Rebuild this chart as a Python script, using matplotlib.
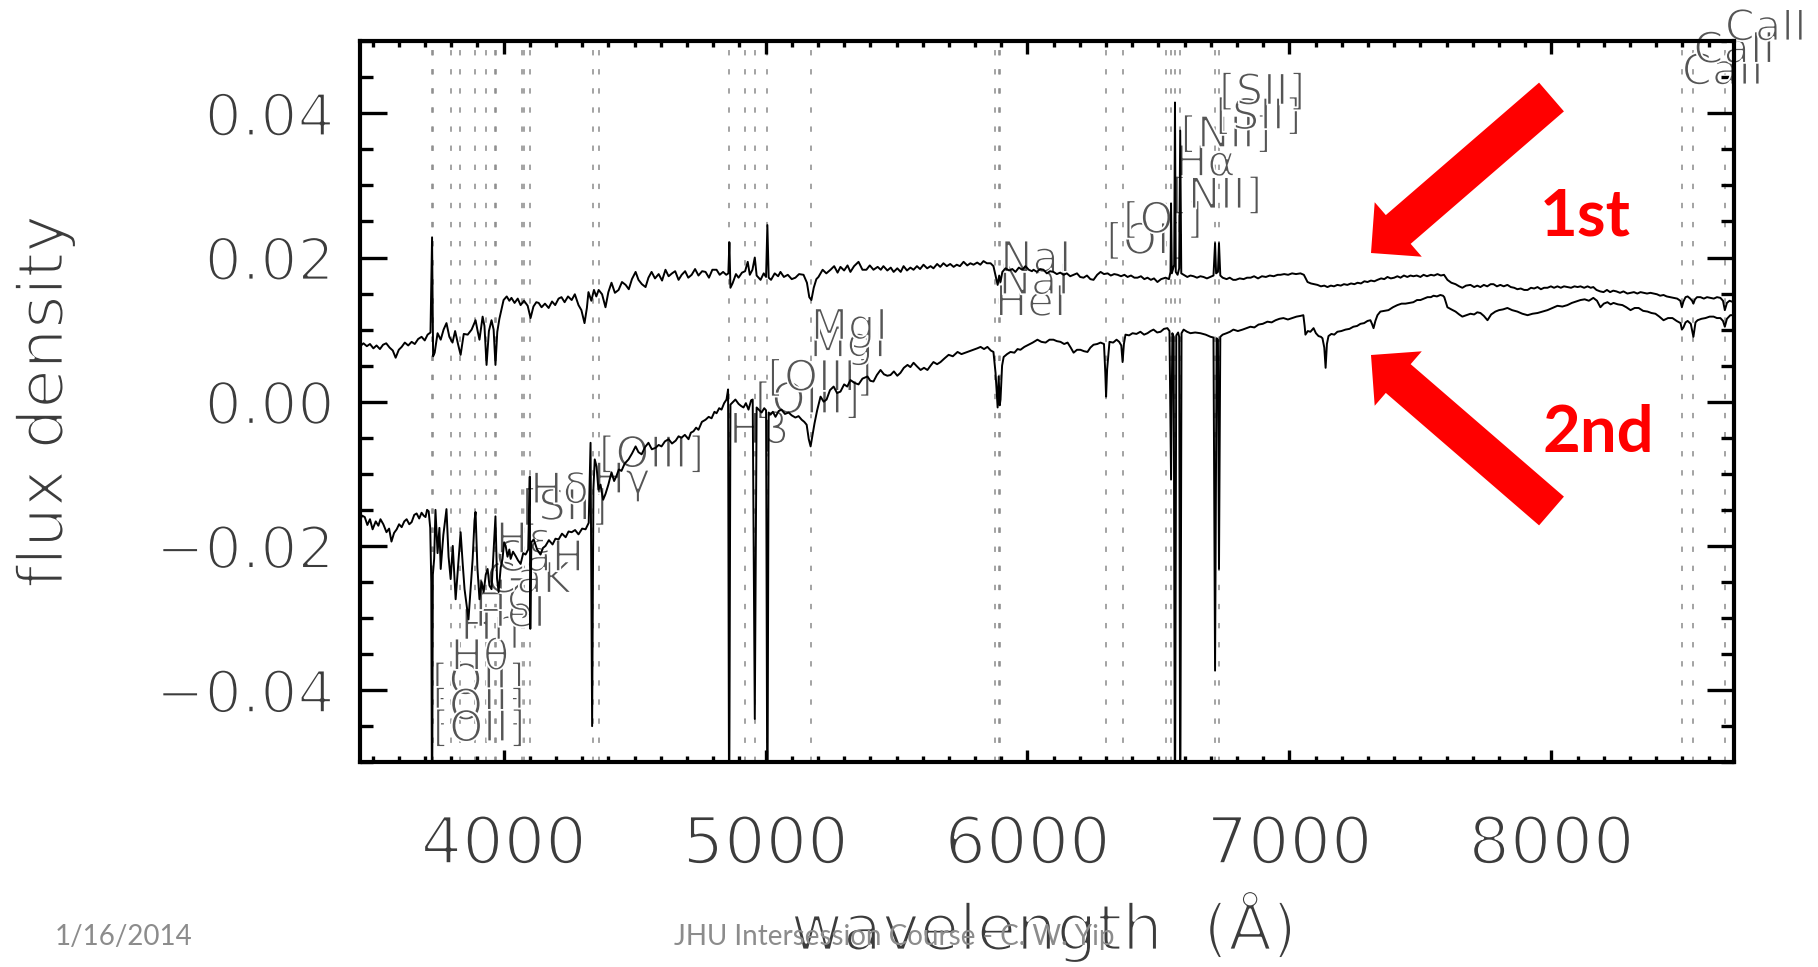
import matplotlib
matplotlib.use("Agg")
import matplotlib.pyplot as plt
import matplotlib.patheffects as pe
from matplotlib.patches import FancyArrow
from matplotlib.ticker import FixedLocator, MultipleLocator

# ---------------------------------------------------------------- data
# first spectrum (upper curve): wavelength in Angstrom, flux density
wave1 = [3450, 3465, 3478, 3490, 3503, 3515, 3528, 3540, 3552, 3565, 3577, 3588, 3600, 3611, 3623, 3636,
         3649, 3661, 3674, 3687, 3699, 3710, 3721, 3727, 3731, 3737, 3748, 3760, 3771, 3782, 3793, 3805,
         3815, 3826, 3836, 3848, 3863, 3878, 3893, 3901, 3908, 3920, 3927, 3935, 3944, 3954, 3962, 3969,
         3976, 3984, 3993, 4000, 4012, 4022, 4030, 4042, 4054, 4065, 4078, 4092, 4103, 4114, 4125, 4134,
         4145, 4158, 4172, 4185, 4197, 4210, 4221, 4233, 4246, 4260, 4272, 4286, 4297, 4309, 4318, 4324,
         4335, 4345, 4354, 4363, 4376, 4389, 4400, 4412, 4425, 4439, 4452, 4466, 4478, 4490, 4504, 4515,
         4528, 4542, 4553, 4565, 4578, 4592, 4605, 4618, 4630, 4643, 4655, 4668, 4680, 4693, 4705, 4718,
         4731, 4744, 4758, 4771, 4784, 4797, 4813, 4825, 4838, 4850, 4858, 4862, 4866, 4874, 4887, 4897,
         4910, 4922, 4932, 4940, 4950, 4959, 4966, 4981, 4993, 5002, 5007, 5012, 5021, 5035, 5048, 5057,
         5070, 5085, 5100, 5114, 5128, 5145, 5158, 5167, 5175, 5184, 5194, 5202, 5218, 5232, 5248, 5262,
         5275, 5286, 5300, 5313, 5324, 5338, 5355, 5370, 5385, 5398, 5412, 5428, 5440, 5450, 5465, 5478,
         5489, 5503, 5516, 5527, 5540, 5553, 5565, 5578, 5590, 5603, 5617, 5630, 5641, 5655, 5667, 5679,
         5692, 5705, 5718, 5730, 5742, 5756, 5770, 5782, 5794, 5808, 5820, 5832, 5845, 5859, 5870, 5878,
         5886, 5892, 5897, 5904, 5916, 5930, 5942, 5954, 5967, 5980, 5992, 6005, 6017, 6023, 6036, 6048,
         6061, 6074, 6086, 6099, 6112, 6125, 6138, 6150, 6163, 6176, 6189, 6201, 6214, 6227, 6240, 6252,
         6266, 6279, 6292, 6306, 6318, 6331, 6344, 6357, 6370, 6382, 6395, 6408, 6420, 6433, 6446, 6458,
         6471, 6483, 6496, 6510, 6527, 6540, 6546, 6548, 6551, 6556, 6560, 6563, 6566, 6573, 6579, 6583,
         6587, 6596, 6610, 6622, 6634, 6647, 6660, 6672, 6685, 6698, 6710, 6716, 6720, 6727, 6731, 6736,
         6745, 6760, 6772, 6785, 6795, 6810, 6825, 6838, 6852, 6865, 6880, 6895, 6910, 6925, 6940, 6955,
         6966, 6980, 6995, 7010, 7025, 7042, 7055, 7069, 7082, 7095, 7107, 7120, 7133, 7145, 7158, 7170,
         7183, 7196, 7208, 7221, 7235, 7248, 7260, 7273, 7286, 7298, 7311, 7324, 7336, 7350, 7362, 7374,
         7387, 7400, 7412, 7424, 7437, 7450, 7462, 7473, 7486, 7500, 7512, 7525, 7540, 7552, 7565, 7578,
         7590, 7603, 7618, 7634, 7648, 7660, 7674, 7691, 7705, 7717, 7729, 7742, 7755, 7768, 7779, 7792,
         7805, 7818, 7832, 7845, 7858, 7870, 7883, 7896, 7909, 7922, 7934, 7947, 7960, 7972, 7985, 7998,
         8010, 8023, 8036, 8048, 8061, 8075, 8088, 8100, 8111, 8125, 8138, 8150, 8160, 8172, 8186, 8199,
         8212, 8224, 8236, 8248, 8262, 8275, 8290, 8302, 8315, 8328, 8340, 8352, 8365, 8378, 8390, 8403,
         8415, 8428, 8440, 8453, 8466, 8480, 8492, 8498, 8504, 8512, 8520, 8530, 8537, 8542, 8548, 8556,
         8569, 8582, 8594, 8607, 8620, 8632, 8645, 8655, 8662, 8670, 8680, 8695, 8710]
flux1 = [0.0076, 0.0081, 0.0077, 0.0080, 0.0074, 0.0078, 0.0073, 0.0079, 0.0081, 0.0075, 0.0071, 0.0061,
         0.0072, 0.0076, 0.0082, 0.0078, 0.0083, 0.0080, 0.0087, 0.0090, 0.0085, 0.0093, 0.0096, 0.0228,
         0.0063, 0.0068, 0.0095, 0.0086, 0.0100, 0.0109, 0.0090, 0.0082, 0.0098, 0.0080, 0.0065, 0.0094,
         0.0093, 0.0100, 0.0113, 0.0098, 0.0086, 0.0118, 0.0105, 0.0051, 0.0098, 0.0113, 0.0100, 0.0051,
         0.0097, 0.0115, 0.0130, 0.0141, 0.0146, 0.0140, 0.0144, 0.0137, 0.0143, 0.0134, 0.0140, 0.0133,
         0.0116, 0.0132, 0.0138, 0.0137, 0.0131, 0.0136, 0.0130, 0.0139, 0.0134, 0.0143, 0.0145, 0.0138,
         0.0146, 0.0141, 0.0149, 0.0134, 0.0127, 0.0109, 0.0130, 0.0152, 0.0140, 0.0155, 0.0146, 0.0155,
         0.0149, 0.0131, 0.0152, 0.0165, 0.0151, 0.0155, 0.0166, 0.0162, 0.0156, 0.0170, 0.0180, 0.0169,
         0.0163, 0.0159, 0.0172, 0.0180, 0.0171, 0.0177, 0.0168, 0.0183, 0.0174, 0.0178, 0.0181, 0.0169,
         0.0176, 0.0181, 0.0172, 0.0176, 0.0184, 0.0175, 0.0181, 0.0180, 0.0172, 0.0183, 0.0183, 0.0176,
         0.0180, 0.0176, 0.0178, 0.0221, 0.0158, 0.0164, 0.0177, 0.0172, 0.0179, 0.0181, 0.0194, 0.0176,
         0.0183, 0.0200, 0.0175, 0.0169, 0.0178, 0.0173, 0.0245, 0.0172, 0.0169, 0.0178, 0.0174, 0.0180,
         0.0173, 0.0176, 0.0170, 0.0172, 0.0177, 0.0176, 0.0165, 0.0145, 0.0141, 0.0158, 0.0170, 0.0173,
         0.0183, 0.0178, 0.0183, 0.0188, 0.0179, 0.0187, 0.0182, 0.0189, 0.0180, 0.0188, 0.0194, 0.0183,
         0.0183, 0.0189, 0.0183, 0.0187, 0.0183, 0.0188, 0.0182, 0.0186, 0.0180, 0.0185, 0.0180, 0.0188,
         0.0182, 0.0186, 0.0183, 0.0188, 0.0184, 0.0190, 0.0185, 0.0188, 0.0185, 0.0191, 0.0187, 0.0192,
         0.0188, 0.0191, 0.0187, 0.0190, 0.0188, 0.0194, 0.0189, 0.0192, 0.0190, 0.0193, 0.0190, 0.0195,
         0.0192, 0.0192, 0.0188, 0.0175, 0.0162, 0.0175, 0.0166, 0.0180, 0.0185, 0.0182, 0.0184, 0.0180,
         0.0186, 0.0183, 0.0188, 0.0183, 0.0181, 0.0183, 0.0180, 0.0184, 0.0183, 0.0178, 0.0181, 0.0180,
         0.0177, 0.0179, 0.0176, 0.0178, 0.0174, 0.0176, 0.0178, 0.0173, 0.0172, 0.0175, 0.0170, 0.0169,
         0.0176, 0.0180, 0.0177, 0.0178, 0.0175, 0.0177, 0.0176, 0.0174, 0.0176, 0.0173, 0.0175, 0.0172,
         0.0172, 0.0174, 0.0170, 0.0172, 0.0169, 0.0171, 0.0166, 0.0170, 0.0172, 0.0170, 0.0180, 0.0275,
         0.0178, 0.0185, 0.0190, 0.0415, 0.0180, 0.0176, 0.0185, 0.0376, 0.0178, 0.0176, 0.0173, 0.0175,
         0.0174, 0.0172, 0.0174, 0.0173, 0.0171, 0.0173, 0.0175, 0.0220, 0.0178, 0.0180, 0.0220, 0.0175,
         0.0172, 0.0170, 0.0172, 0.0169, 0.0169, 0.0171, 0.0170, 0.0172, 0.0172, 0.0174, 0.0171, 0.0174,
         0.0173, 0.0175, 0.0174, 0.0176, 0.0176, 0.0177, 0.0176, 0.0178, 0.0177, 0.0178, 0.0176, 0.0166,
         0.0164, 0.0163, 0.0162, 0.0160, 0.0161, 0.0159, 0.0161, 0.0160, 0.0162, 0.0161, 0.0163, 0.0162,
         0.0164, 0.0163, 0.0165, 0.0164, 0.0167, 0.0166, 0.0168, 0.0167, 0.0169, 0.0171, 0.0170, 0.0173,
         0.0171, 0.0172, 0.0174, 0.0172, 0.0175, 0.0173, 0.0175, 0.0174, 0.0175, 0.0173, 0.0176, 0.0174,
         0.0176, 0.0175, 0.0177, 0.0175, 0.0176, 0.0169, 0.0165, 0.0163, 0.0160, 0.0158, 0.0161, 0.0162,
         0.0159, 0.0161, 0.0159, 0.0162, 0.0160, 0.0163, 0.0163, 0.0160, 0.0162, 0.0160, 0.0162, 0.0159,
         0.0158, 0.0156, 0.0157, 0.0155, 0.0155, 0.0158, 0.0157, 0.0159, 0.0156, 0.0158, 0.0158, 0.0160,
         0.0158, 0.0160, 0.0158, 0.0160, 0.0159, 0.0158, 0.0160, 0.0159, 0.0160, 0.0158, 0.0160, 0.0158,
         0.0159, 0.0155, 0.0153, 0.0152, 0.0155, 0.0152, 0.0154, 0.0153, 0.0151, 0.0153, 0.0150, 0.0151,
         0.0152, 0.0150, 0.0152, 0.0151, 0.0150, 0.0151, 0.0150, 0.0149, 0.0147, 0.0148, 0.0146, 0.0145,
         0.0144, 0.0143, 0.0140, 0.0131, 0.0139, 0.0145, 0.0146, 0.0143, 0.0140, 0.0136, 0.0142, 0.0145,
         0.0145, 0.0143, 0.0145, 0.0144, 0.0143, 0.0145, 0.0144, 0.0140, 0.0127, 0.0137, 0.0140, 0.0138,
         0.0139]

# second spectrum (lower curve)
wave2 = [3450, 3460, 3470, 3480, 3490, 3500, 3512, 3522, 3530, 3541, 3553, 3563, 3572, 3582, 3592, 3601,
         3611, 3621, 3630, 3640, 3649, 3659, 3668, 3678, 3687, 3695, 3702, 3708, 3714, 3720, 3724, 3727,
         3730, 3735, 3740, 3748, 3755, 3760, 3770, 3782, 3790, 3798, 3806, 3817, 3826, 3836, 3844, 3851,
         3860, 3866, 3874, 3882, 3889, 3893, 3900, 3908, 3916, 3924, 3932, 3939, 3946, 3954, 3962, 3969,
         3975, 3981, 3989, 3996, 4002, 4008, 4015, 4022, 4027, 4036, 4046, 4055, 4065, 4075, 4084, 4094,
         4100, 4102, 4106, 4115, 4128, 4141, 4150, 4160, 4173, 4187, 4198, 4210, 4223, 4237, 4248, 4260,
         4273, 4286, 4300, 4313, 4325, 4332, 4338, 4343, 4348, 4355, 4362, 4370, 4380, 4389, 4400, 4412,
         4422, 4431, 4440, 4450, 4462, 4477, 4490, 4504, 4515, 4527, 4540, 4553, 4566, 4580, 4592, 4603,
         4616, 4630, 4643, 4657, 4668, 4679, 4692, 4706, 4715, 4725, 4735, 4744, 4757, 4771, 4783, 4794,
         4805, 4813, 4823, 4832, 4842, 4851, 4857, 4861, 4866, 4874, 4885, 4897, 4907, 4916, 4925, 4935,
         4945, 4951, 4959, 4966, 4974, 4985, 4995, 5002, 5007, 5012, 5019, 5028, 5038, 5050, 5061, 5074,
         5088, 5100, 5114, 5126, 5138, 5148, 5157, 5165, 5172, 5180, 5187, 5197, 5210, 5222, 5233, 5246,
         5260, 5273, 5286, 5300, 5312, 5324, 5340, 5355, 5370, 5389, 5400, 5412, 5425, 5439, 5452, 5465,
         5477, 5490, 5503, 5515, 5528, 5542, 5553, 5565, 5578, 5592, 5605, 5618, 5630, 5641, 5655, 5668,
         5683, 5699, 5715, 5733, 5748, 5763, 5778, 5794, 5808, 5821, 5834, 5847, 5860, 5870, 5878, 5886,
         5890, 5894, 5897, 5903, 5909, 5922, 5935, 5950, 5962, 5973, 5988, 6004, 6020, 6038, 6053, 6069,
         6084, 6099, 6112, 6126, 6140, 6153, 6165, 6176, 6189, 6202, 6216, 6229, 6240, 6252, 6266, 6279,
         6292, 6297, 6300, 6304, 6313, 6327, 6340, 6350, 6358, 6363, 6368, 6374, 6388, 6401, 6416, 6431,
         6445, 6458, 6470, 6481, 6495, 6508, 6521, 6534, 6542, 6548, 6553, 6558, 6563, 6568, 6575, 6579,
         6583, 6588, 6596, 6609, 6622, 6640, 6660, 6680, 6699, 6710, 6716, 6722, 6727, 6731, 6736, 6745,
         6760, 6773, 6786, 6803, 6821, 6836, 6851, 6866, 6882, 6898, 6916, 6932, 6947, 6962, 6977, 6994,
         7011, 7027, 7042, 7053, 7058, 7061, 7070, 7080, 7092, 7101, 7111, 7120, 7126, 7133, 7138, 7143,
         7149, 7160, 7171, 7183, 7198, 7214, 7229, 7244, 7258, 7271, 7285, 7298, 7309, 7315, 7321, 7328,
         7336, 7347, 7362, 7378, 7395, 7412, 7428, 7443, 7458, 7473, 7487, 7500, 7514, 7527, 7540, 7550,
         7563, 7576, 7586, 7591, 7597, 7603, 7618, 7634, 7648, 7660, 7675, 7691, 7705, 7717, 7729, 7742,
         7756, 7770, 7786, 7800, 7815, 7832, 7850, 7870, 7889, 7909, 7928, 7947, 7966, 7985, 8004, 8023,
         8042, 8061, 8078, 8095, 8111, 8127, 8143, 8160, 8174, 8187, 8200, 8214, 8226, 8237, 8254, 8271,
         8286, 8302, 8318, 8333, 8350, 8367, 8382, 8397, 8412, 8428, 8445, 8462, 8478, 8493, 8498, 8504,
         8512, 8520, 8532, 8542, 8550, 8558, 8573, 8588, 8604, 8619, 8632, 8645, 8655, 8662, 8670, 8683,
         8695, 8710]
flux2 = [-0.0167, -0.0158, -0.0160, -0.0171, -0.0163, -0.0177, -0.0166, -0.0172, -0.0163, -0.0170, -0.0181,
         -0.0176, -0.0194, -0.0182, -0.0177, -0.0170, -0.0174, -0.0166, -0.0163, -0.0170, -0.0167, -0.0157,
         -0.0155, -0.0162, -0.0154, -0.0158, -0.0160, -0.0150, -0.0152, -0.0175, -0.0250, -0.0620, -0.0240,
         -0.0218, -0.0150, -0.0210, -0.0175, -0.0232, -0.0185, -0.0149, -0.0215, -0.0246, -0.0200, -0.0274,
         -0.0230, -0.0181, -0.0225, -0.0260, -0.0285, -0.0302, -0.0260, -0.0218, -0.0165, -0.0153, -0.0230,
         -0.0274, -0.0250, -0.0264, -0.0240, -0.0232, -0.0255, -0.0260, -0.0205, -0.0159, -0.0245, -0.0264,
         -0.0230, -0.0218, -0.0195, -0.0200, -0.0215, -0.0205, -0.0218, -0.0208, -0.0214, -0.0220, -0.0225,
         -0.0210, -0.0212, -0.0205, -0.0104, -0.0315, -0.0195, -0.0191, -0.0205, -0.0212, -0.0203, -0.0200,
         -0.0192, -0.0198, -0.0190, -0.0191, -0.0183, -0.0188, -0.0180, -0.0181, -0.0178, -0.0184, -0.0176,
         -0.0177, -0.0168, -0.0057, -0.0450, -0.0120, -0.0080, -0.0090, -0.0122, -0.0115, -0.0136, -0.0128,
         -0.0115, -0.0098, -0.0110, -0.0103, -0.0094, -0.0096, -0.0086, -0.0080, -0.0072, -0.0062, -0.0070,
         -0.0073, -0.0063, -0.0057, -0.0066, -0.0064, -0.0060, -0.0062, -0.0055, -0.0052, -0.0058, -0.0054,
         -0.0048, -0.0050, -0.0046, -0.0052, -0.0043, -0.0041, -0.0036, -0.0039, -0.0028, -0.0025, -0.0021,
         -0.0023, -0.0014, -0.0016, -0.0009, -0.0011, -0.0002, 0.0003, 0.0017, -0.0620, -0.0004, -0.0001,
         0.0003, -0.0003, -0.0006, -0.0008, -0.0002, -0.0011, 0.0002, 0.0003, -0.0440, -0.0008, -0.0011,
         -0.0015, -0.0009, -0.0012, -0.0620, -0.0015, -0.0018, -0.0014, -0.0021, -0.0013, -0.0011, -0.0017,
         -0.0015, -0.0019, -0.0022, -0.0020, -0.0025, -0.0028, -0.0032, -0.0052, -0.0062, -0.0045, -0.0030,
         -0.0012, 0.0007, 0.0000, 0.0003, 0.0016, 0.0021, 0.0012, 0.0014, 0.0024, 0.0021, 0.0030, 0.0026,
         0.0024, 0.0032, 0.0035, 0.0029, 0.0028, 0.0037, 0.0044, 0.0038, 0.0036, 0.0037, 0.0042, 0.0036,
         0.0040, 0.0047, 0.0051, 0.0048, 0.0054, 0.0049, 0.0044, 0.0047, 0.0044, 0.0050, 0.0055, 0.0052,
         0.0055, 0.0060, 0.0065, 0.0063, 0.0069, 0.0066, 0.0068, 0.0070, 0.0072, 0.0074, 0.0076, 0.0073,
         0.0076, 0.0071, 0.0069, 0.0040, -0.0008, 0.0035, -0.0005, 0.0003, 0.0050, 0.0062, 0.0066, 0.0069,
         0.0068, 0.0073, 0.0072, 0.0076, 0.0079, 0.0082, 0.0086, 0.0083, 0.0082, 0.0086, 0.0086, 0.0084,
         0.0083, 0.0080, 0.0082, 0.0075, 0.0068, 0.0072, 0.0072, 0.0070, 0.0069, 0.0075, 0.0079, 0.0080,
         0.0082, 0.0080, 0.0040, 0.0007, 0.0045, 0.0083, 0.0082, 0.0086, 0.0083, 0.0078, 0.0055, 0.0080,
         0.0093, 0.0092, 0.0095, 0.0094, 0.0097, 0.0093, 0.0095, 0.0098, 0.0100, 0.0096, 0.0097, 0.0101,
         0.0102, 0.0098, -0.0108, 0.0095, 0.0090, -0.0620, 0.0092, 0.0096, 0.0090, -0.0620, 0.0095, 0.0100,
         0.0097, 0.0095, 0.0096, 0.0095, 0.0093, 0.0090, 0.0089, -0.0373, 0.0088, 0.0086, -0.0232, 0.0090,
         0.0093, 0.0095, 0.0097, 0.0100, 0.0098, 0.0100, 0.0102, 0.0104, 0.0103, 0.0107, 0.0108, 0.0111,
         0.0110, 0.0113, 0.0115, 0.0116, 0.0114, 0.0116, 0.0118, 0.0119, 0.0120, 0.0105, 0.0093, 0.0098,
         0.0097, 0.0102, 0.0095, 0.0091, 0.0090, 0.0088, 0.0075, 0.0047, 0.0080, 0.0091, 0.0094, 0.0093,
         0.0097, 0.0098, 0.0100, 0.0101, 0.0104, 0.0105, 0.0108, 0.0109, 0.0112, 0.0113, 0.0108, 0.0102,
         0.0112, 0.0120, 0.0125, 0.0126, 0.0127, 0.0131, 0.0134, 0.0136, 0.0136, 0.0137, 0.0138, 0.0141,
         0.0141, 0.0143, 0.0145, 0.0145, 0.0147, 0.0146, 0.0148, 0.0147, 0.0145, 0.0138, 0.0131, 0.0128,
         0.0125, 0.0121, 0.0118, 0.0120, 0.0122, 0.0121, 0.0124, 0.0123, 0.0119, 0.0113, 0.0121, 0.0125,
         0.0127, 0.0128, 0.0130, 0.0127, 0.0125, 0.0122, 0.0120, 0.0122, 0.0123, 0.0125, 0.0127, 0.0130,
         0.0133, 0.0132, 0.0134, 0.0137, 0.0139, 0.0141, 0.0142, 0.0140, 0.0144, 0.0140, 0.0131, 0.0136,
         0.0138, 0.0135, 0.0137, 0.0135, 0.0134, 0.0131, 0.0127, 0.0130, 0.0130, 0.0126, 0.0125, 0.0123,
         0.0122, 0.0118, 0.0113, 0.0116, 0.0116, 0.0112, 0.0109, 0.0100, 0.0103, 0.0110, 0.0112, 0.0108,
         0.0090, 0.0110, 0.0113, 0.0115, 0.0116, 0.0118, 0.0118, 0.0116, 0.0116, 0.0112, 0.0104, 0.0115,
         0.0120, 0.0120, 0.0121]

# spectral line list: wavelengths marked by dotted guides
line_waves = [3726.0, 3728.8, 3797.9, 3835.4, 3889.0, 3933.7, 3968.5, 3970.1, 4068.6, 4076.3, 4101.7,
              4340.5, 4363.2, 4861.3, 4921.9, 4958.9, 5006.8, 5172.7, 5875.6, 5889.9, 5895.9, 6300.3,
              6363.8, 6527.0, 6548.1, 6562.8, 6583.4, 6716.4, 6730.8, 8498.0, 8542.1, 8662.1]

# line labels: position (wavelength) and height (flux units, text baseline)
label_waves = [3726.0, 3727.4, 3728.8, 3797.9, 3835.4, 3888.6, 3889.0, 3933.7, 3968.5, 3970.1, 4068.6,
               4101.7, 4340.5, 4363.2, 4861.3, 4958.9, 5006.8, 5167.3, 5172.7, 5875.6, 5889.9, 5895.9,
               6300.3, 6363.8, 6548.1, 6562.8, 6583.4, 6716.4, 6730.8, 8498.0, 8542.1, 8662.1]
label_names = ["[OII]", "[OII]", "[OII]", "Hθ", "Hη", "HeI", "Hζ", "CaK", "CaH", "Hε", "[SII]",
               "Hδ", "Hγ", "[OIII]", "Hβ", "[OIII]", "[OIII]", "MgI", "MgI", "HeI", "NaI", "NaI",
               "[OI]", "[OI]", "[NII]", "Hα", "[NII]", "[SII]", "[SII]", "CaII", "CaII", "CaII"]
label_levels = [-0.0406, -0.0441, -0.0471, -0.0372, -0.0330, -0.0312, -0.0289, -0.0265, -0.0235,
                -0.0210, -0.0164, -0.0141, -0.0127, -0.0091, -0.0058, -0.0016, 0.0015, 0.0062, 0.0086,
                0.0119, 0.0149, 0.0180, 0.0205, 0.0234, 0.0268, 0.0313, 0.0353, 0.0378, 0.0412,
                0.0440, 0.0470, 0.0501]

xticks = [4000, 5000, 6000, 7000, 8000]
xtick_labels = ["4000", "5000", "6000", "7000", "8000"]
yticks = [-0.04, -0.02, 0.00, 0.02, 0.04]
ytick_labels = ["\u22120.04", "\u22120.02", "0.00", "0.02", "0.04"]

# ---------------------------------------------------------------- figure
W, H = 1818, 967
fig = plt.figure(figsize=(W / 100, H / 100), dpi=100)
ax = fig.add_axes([359.5 / W, (H - 762.2) / H, (1734 - 359.5) / W, 721 / H])

thin = [pe.Stroke(linewidth=2.0, foreground="white")]
thin_small = [pe.Stroke(linewidth=1.3, foreground="white")]
axis_grey = "#3c3c3c"

# dotted guides at each line wavelength
for w in line_waves:
    ax.axvline(w, color="#8a8a8a", lw=1.1, ls=(0, (3.5, 9.0)), zorder=1)

# line names
for w, name, lev in zip(label_waves, label_names, label_levels):
    ax.text(w, lev, name, fontsize=31, color="#555555", ha="left", va="baseline",
            family="DejaVu Sans", path_effects=thin_small, zorder=2, clip_on=False)

# the two spectra
ax.plot(wave1, flux1, color="black", lw=1.4, zorder=3)
ax.plot(wave2, flux2, color="black", lw=1.4, zorder=3)

ax.set_xlim(3450, 8697)
ax.set_ylim(-0.05, 0.05)

ax.xaxis.set_major_locator(FixedLocator(xticks))
ax.set_xticklabels(xtick_labels)
ax.xaxis.set_minor_locator(MultipleLocator(100))
ax.yaxis.set_major_locator(FixedLocator(yticks))
ax.set_yticklabels(ytick_labels)
ax.yaxis.set_minor_locator(MultipleLocator(0.005))

ax.tick_params(axis="x", which="major", direction="in", length=9, width=2.4,
               top=True, bottom=True, pad=37, labelsize=47, labelcolor=axis_grey)
ax.tick_params(axis="x", which="minor", direction="in", length=4, width=2.4,
               top=True, bottom=True)
ax.tick_params(axis="y", which="major", direction="in", length=19.5, width=2.4,
               left=True, right=True, pad=18, labelsize=42, labelcolor=axis_grey)
ax.tick_params(axis="y", which="minor", direction="in", length=9.5, width=2.4,
               left=True, right=True)
for sp in ax.spines.values():
    sp.set_linewidth(3)

for lbl in ax.get_xticklabels() + ax.get_yticklabels():
    lbl.set_path_effects(thin)

ax.set_xlabel("wavelength  (\u00c5)", fontsize=46, color=axis_grey, va="baseline",
              path_effects=thin)
ax.xaxis.set_label_coords(0.4975, (762.2 - 950) / -721 * -1)
ax.set_ylabel("flux density", fontsize=46, color=axis_grey, va="center",
              path_effects=thin)
ax.yaxis.set_label_coords((45 - 359.5) / (1734 - 359.5), 0.5)

# red arrows with their captions
px = fig.dpi_scale_trans
arrow_kw = dict(width=0.38, head_width=0.72, head_length=0.36, length_includes_head=True,
                color="#ff0000", lw=0, transform=px)
fig.add_artist(FancyArrow(15.515, 8.70, -1.805, -1.56, **arrow_kw))
fig.add_artist(FancyArrow(15.515, 4.56, -1.805, 1.56, **arrow_kw))
fig.text(1585 / W, (H - 235) / H, "1st", color="#ff0000", fontsize=47, fontweight="bold",
         family=["Lato", "DejaVu Sans"], ha="center", va="baseline")
fig.text(1598 / W, (H - 452) / H, "2nd", color="#ff0000", fontsize=47, fontweight="bold",
         family=["Lato", "DejaVu Sans"], ha="center", va="baseline")

# slide footer
fig.text(55 / W, (H - 937) / H, "1/16/2014", color="#8c8c8c", fontsize=20,
         family=["Lato", "DejaVu Sans"], ha="left", va="center")
fig.text(674 / W, (H - 937) / H, "JHU Intersession Course - C. W. Yip", color="#8c8c8c",
         fontsize=20, family=["Lato", "DejaVu Sans"], ha="left", va="center")

fig.savefig("out.png", dpi=100, facecolor="white")
